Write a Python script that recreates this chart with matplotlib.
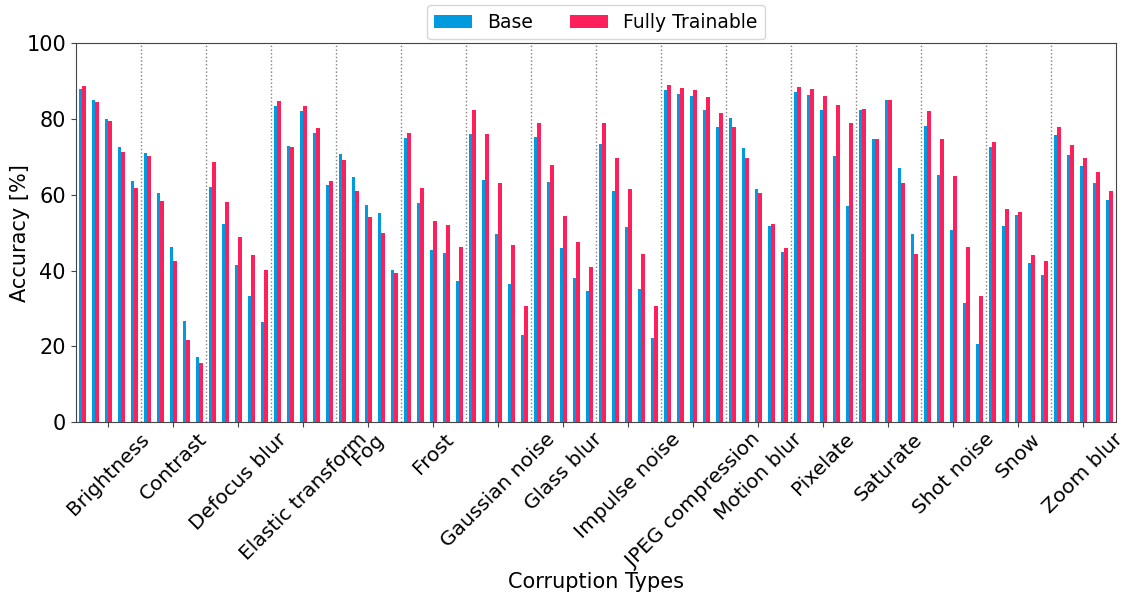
import numpy as np
import matplotlib.pyplot as plt

# corruption types, 5 severities each
corruptions = ["Brightness", "Contrast", "Defocus blur", "Elastic transform", "Fog",
               "Frost", "Gaussian noise", "Glass blur", "Impulse noise", "JPEG compression",
               "Motion blur", "Pixelate", "Saturate", "Shot noise", "Snow", "Zoom blur"]

base = [
    87.9, 85.0, 80.0, 72.6, 63.6,   # Brightness
    71.0, 60.5, 46.2, 26.7, 17.2,   # Contrast
    62.0, 52.3, 41.5, 33.3, 26.4,   # Defocus blur
    83.4, 72.8, 82.1, 76.3, 62.6,   # Elastic transform
    70.7, 64.7, 57.3, 55.2, 40.2,   # Fog
    75.0, 57.8, 45.4, 44.6, 37.3,   # Frost
    76.0, 63.9, 49.6, 36.5, 23.0,   # Gaussian noise
    75.2, 63.4, 46.0, 38.0, 34.6,   # Glass blur
    73.4, 61.0, 51.5, 35.1, 22.2,   # Impulse noise
    87.6, 86.6, 86.0, 82.3, 77.9,   # JPEG compression
    80.2, 72.3, 61.5, 51.8, 44.9,   # Motion blur
    87.1, 86.3, 82.3, 70.2, 57.0,   # Pixelate
    82.3, 74.7, 85.0, 67.0, 49.6,   # Saturate
    78.1, 65.2, 50.7, 31.5, 20.7,   # Shot noise
    72.6, 51.8, 54.7, 42.0, 38.8,   # Snow
    75.7, 70.5, 67.6, 63.1, 58.6,   # Zoom blur
]

fully_trainable = [
    88.7, 84.4, 79.4, 71.3, 61.8,
    70.2, 58.3, 42.5, 21.7, 15.6,
    68.6, 58.1, 48.9, 44.1, 40.2,
    84.7, 72.6, 83.4, 77.6, 63.6,
    69.2, 61.0, 54.1, 49.9, 39.4,
    76.3, 61.8, 53.1, 52.0, 46.2,
    82.3, 76.0, 63.1, 46.7, 30.7,
    78.9, 67.8, 54.4, 47.5, 40.9,
    78.9, 69.7, 61.5, 44.4, 30.7,
    88.9, 88.1, 87.6, 85.8, 81.5,
    77.9, 69.7, 60.5, 52.3, 46.0,
    88.4, 87.9, 86.0, 83.7, 78.9,
    82.6, 74.7, 85.0, 63.1, 44.4,
    82.1, 74.7, 64.9, 46.2, 33.3,
    73.9, 56.2, 55.4, 44.1, 42.5,
    77.9, 73.1, 69.7, 66.0, 61.0,
]

n_sev = 5
x = np.arange(len(base))
w = 0.28

fig = plt.figure(figsize=(11.28, 5.92), dpi=100)
ax = fig.add_axes([0.0671, 0.287, 0.922, 0.640])

ax.bar(x - w / 2, base, width=w, color="#009ADE", label="Base")
ax.bar(x + w / 2, fully_trainable, width=w, color="#FF1F5B", label="Fully Trainable")

# dotted separators between corruption groups
for k in range(1, len(corruptions)):
    ax.axvline(k * n_sev - 0.5, color="gray", linestyle=":", linewidth=1)

ax.set_xlim(-0.5, len(base) - 0.5)
ax.set_ylim(0, 100)
ax.set_xticks(np.arange(len(corruptions)) * n_sev + 2)
ax.set_xticklabels(corruptions, rotation=45, ha="center", fontsize=14.5)
ax.tick_params(axis="x", pad=2)
ax.tick_params(axis="y", labelsize=15)
ax.tick_params(colors="#444444", labelcolor="black")
for s in ax.spines.values():
    s.set_color("#444444")

ax.set_xlabel("Corruption Types", fontsize=15)
ax.set_ylabel("Accuracy [%]", fontsize=15)
ax.xaxis.set_label_coords(0.5, -0.395)
ax.yaxis.set_label_coords(-0.044, 0.5)

ax.legend(loc="lower center", bbox_to_anchor=(0.5, 1.0), ncol=2, fontsize=13.5,
          borderaxespad=0.2)

fig.savefig("out.png", dpi=100)
